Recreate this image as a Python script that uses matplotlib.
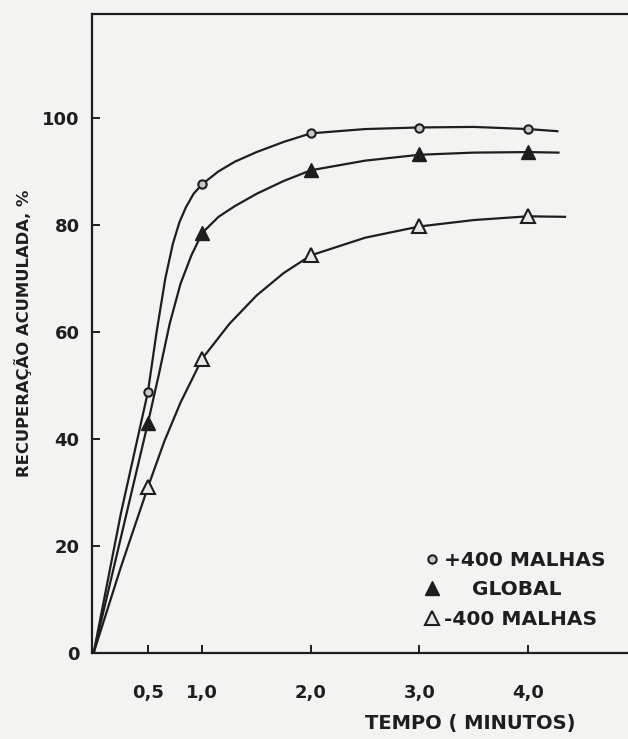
import numpy as np
import matplotlib
matplotlib.use('Agg')
import matplotlib.pyplot as plt

# valores (recuperacao acumulada, %)
tempo = [0.5, 1.0, 2.0, 3.0, 4.0]
mais_400 = [48.8, 87.6, 97.1, 98.1, 97.9]
glob = [43.0, 78.5, 90.2, 93.2, 93.6]
menos_400 = [31.0, 55.0, 74.3, 79.7, 81.6]

# curvas ajustadas (tracadas a mao no original)
curva_x_mais = [0, 0.25, 0.5, 0.58, 0.66, 0.73, 0.79, 0.85, 0.92, 1.0, 1.15, 1.3, 1.5, 1.75, 2.0, 2.5, 3.0, 3.5, 4.0, 4.27]
curva_y_mais = [0, 26, 48.8, 60, 70, 76.5, 80.5, 83.3, 85.8, 87.6, 90, 91.8, 93.6, 95.5, 97.1, 97.9, 98.2, 98.3, 97.9, 97.5]
curva_x_glob = [0, 0.25, 0.5, 0.6, 0.7, 0.8, 0.9, 1.0, 1.15, 1.3, 1.5, 1.75, 2.0, 2.5, 3.0, 3.5, 4.0, 4.28]
curva_y_glob = [0, 21.5, 43.0, 52, 61.5, 69, 74.3, 78.5, 81.5, 83.5, 85.8, 88.2, 90.2, 92.0, 93.1, 93.5, 93.6, 93.5]
curva_x_menos = [0, 0.25, 0.5, 0.65, 0.8, 1.0, 1.25, 1.5, 1.75, 2.0, 2.5, 3.0, 3.5, 4.0, 4.34]
curva_y_menos = [0, 16, 31.0, 39.5, 46.8, 55, 61.5, 66.8, 71, 74.3, 77.6, 79.7, 80.9, 81.6, 81.5]

xticks = [0.5, 1.0, 2.0, 3.0, 4.0]
xtick_labels = ['0,5', '1,0', '2,0', '3,0', '4,0']
yticks = [0, 20, 40, 60, 80, 100]

cor = '#1e1e1e'
fundo = '#f3f3f1'

plt.rcParams['font.family'] = ['DejaVu Sans']

fig = plt.figure(figsize=(6.28, 7.39), dpi=100, facecolor=fundo)
ax = fig.add_axes([92/628, 1 - 653/739, 1 - 92/628, (653 - 14)/739])
ax.set_facecolor(fundo)

ax.plot(curva_x_mais, curva_y_mais, color=cor, lw=1.6)
ax.plot(curva_x_glob, curva_y_glob, color=cor, lw=1.6)
ax.plot(curva_x_menos, curva_y_menos, color=cor, lw=1.6)

ax.plot(tempo, mais_400, 'o', ms=6, mfc='#c8c8c8', mec=cor, mew=1.5, ls='none', label='+400 MALHAS')
ax.plot(tempo, glob, '^', ms=9.5, mfc=cor, mec=cor, ls='none', label='    GLOBAL')
ax.plot(tempo, menos_400, '^', ms=9.5, mfc='#e8e8e8', mec=cor, mew=1.5, ls='none', label='-400 MALHAS')

ax.set_xlim(-0.015, 4.92)
ax.set_ylim(0, 119.4)
ax.set_xticks(xticks)
ax.set_xticklabels(xtick_labels)
ax.set_yticks(yticks)

ax.spines['right'].set_visible(False)
for s in ['left', 'bottom', 'top']:
    ax.spines[s].set_linewidth(1.6)
    ax.spines[s].set_color(cor)

ax.tick_params(axis='both', direction='in', length=6, width=1.4, colors=cor, labelsize=13)
ax.tick_params(axis='x', pad=22)
ax.tick_params(axis='y', pad=9)
for lab in ax.get_xticklabels() + ax.get_yticklabels():
    lab.set_fontweight('bold')

ax.set_ylabel('RECUPERAÇÃO ACUMULADA, %', fontsize=11.8, fontweight='bold', color=cor)
ax.yaxis.set_label_coords(-0.112, 0.5)
fig.text(470/628, 1 - 723/739, 'TEMPO ( MINUTOS)', fontsize=14, fontweight='bold',
         color=cor, ha='center', va='center')

leg = ax.legend(loc='upper left', bbox_to_anchor=(424/628, 1 - 551/739), bbox_transform=fig.transFigure,
                frameon=False, prop={'size': 14.5, 'weight': 'bold'}, handlelength=0.8,
                handletextpad=0.2, labelspacing=0.52, borderpad=0, borderaxespad=0)
for t in leg.get_texts():
    t.set_color(cor)

fig.savefig('out.png', dpi=100, facecolor=fundo)
